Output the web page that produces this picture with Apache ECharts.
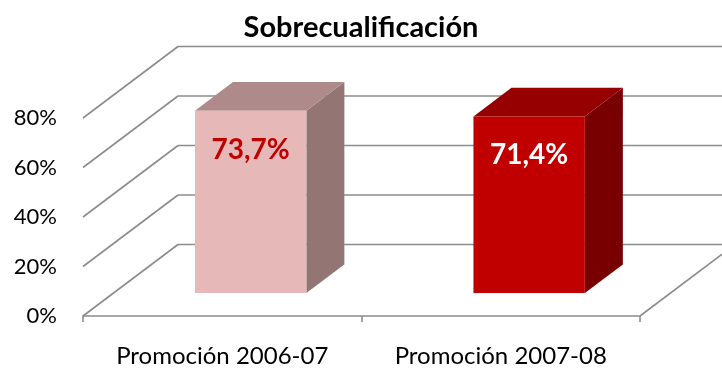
<!DOCTYPE html>
<html>
<head>
<meta charset="utf-8">
<script src="https://cdn.jsdelivr.net/npm/echarts@6/dist/echarts.min.js"></script>
<style>
  html, body { margin: 0; padding: 0; background: #fff; }
  #chart { width: 722px; height: 369px; }
</style>
</head>
<body>
<div id="chart"></div>
<script>
// Chart data
const categories = ['Promoción 2006-07', 'Promoción 2007-08'];
const values = [73.7, 71.4];
const yTicks = [0, 20, 40, 60, 80];

// Perspective settings (pixels) for the pseudo-3D box
const DEPTH_X = 95;
const DEPTH_Y = 71.5;
const BAR_FRONT = 0.32;   // fraction of depth where the bar front face sits
const BAR_DEPTH = 0.40;   // fraction of depth the bar occupies
const BAR_WIDTH = 0.40;   // fraction of the category band
const BAR_SHIFT = -2;     // small horizontal nudge of the bar body
const GRID_COLOR = '#8c8c8c';
const FONT = 'Lato, "Open Sans", sans-serif';

const barFaces = [
  { front: '#e6b9b8', top: '#ae8b8a', side: '#937574', label: '#c00000' },
  { front: '#c00000', top: '#960000', side: '#790000', label: '#ffffff' }
];

function fmtPct(v) {
  return v.toFixed(1).replace('.', ',') + '%';
}

function renderWall(params, api) {
  const v = api.value(1);
  const cs = params.coordSys;
  const y = api.coord([0, v])[1];
  const left = cs.x;
  const right = cs.x + cs.width;
  const lineStyle = { stroke: GRID_COLOR, lineWidth: 1.6, fill: null };
  const children = [
    // side wall line
    { type: 'line', shape: { x1: left, y1: y, x2: left + DEPTH_X, y2: y - DEPTH_Y }, style: lineStyle },
    // back wall line
    { type: 'line', shape: { x1: left + DEPTH_X, y1: y - DEPTH_Y, x2: right + DEPTH_X, y2: y - DEPTH_Y }, style: lineStyle }
  ];
  if (v === 0) {
    // right edge of the floor
    children.push({ type: 'line', shape: { x1: right, y1: y, x2: right + DEPTH_X, y2: y - DEPTH_Y }, style: lineStyle });
  }
  return { type: 'group', children: children };
}

function renderBar(params, api) {
  const i = api.value(0);
  const v = api.value(1);
  const base = api.coord([i, 0]);
  const top = api.coord([i, v]);
  const w = api.size([1, 0])[0] * BAR_WIDTH;
  const ox = DEPTH_X * BAR_FRONT, oy = DEPTH_Y * BAR_FRONT;
  const dx = DEPTH_X * BAR_DEPTH, dy = DEPTH_Y * BAR_DEPTH;
  const x0 = base[0] - w / 2 + ox + BAR_SHIFT;
  const x1 = x0 + w;
  const yb = base[1] - oy;
  const yt = top[1] - oy;
  const c = barFaces[i];
  return {
    type: 'group',
    children: [
      { type: 'polygon', shape: { points: [[x1, yb], [x1, yt], [x1 + dx, yt - dy], [x1 + dx, yb - dy]] }, style: { fill: c.side } },
      { type: 'polygon', shape: { points: [[x0, yt], [x1, yt], [x1 + dx, yt - dy], [x0 + dx, yt - dy]] }, style: { fill: c.top } },
      { type: 'rect', shape: { x: x0, y: yt, width: w, height: yb - yt }, style: { fill: c.front } },
      { type: 'text', style: {
          text: fmtPct(v), x: (x0 + x1) / 2, y: yt + 39,
          align: 'center', verticalAlign: 'middle',
          fontFamily: FONT, fontSize: 28, fontWeight: 'bold', fill: c.label
        } }
    ]
  };
}

const chart = echarts.init(document.getElementById('chart'), null, { renderer: 'canvas' });
chart.setOption({
  animation: false,
  backgroundColor: '#ffffff',
  title: {
    text: 'Sobrecualificación',
    left: 'center',
    top: 8,
    textStyle: { fontFamily: FONT, fontSize: 29, fontWeight: 'bold', color: '#000' }
  },
  grid: { left: 83, right: 82, top: 118, bottom: 53, containLabel: false },
  xAxis: {
    type: 'category',
    data: categories,
    boundaryGap: true,
    axisLine: { show: true, lineStyle: { color: GRID_COLOR, width: 1.6 } },
    axisTick: { show: true, length: 6, lineStyle: { color: GRID_COLOR, width: 1.6 } },
    axisLabel: { fontFamily: FONT, fontSize: 24, color: '#000', margin: 28 },
    splitLine: { show: false }
  },
  yAxis: {
    type: 'value',
    min: 0,
    max: 80,
    interval: 20,
    axisLine: { show: false },
    axisTick: { show: false },
    splitLine: { show: false },
    axisLabel: { formatter: '{value}%', fontFamily: FONT, fontSize: 22, color: '#000', margin: 26 }
  },
  series: [
    {
      type: 'custom',
      renderItem: renderWall,
      data: yTicks.map(function (t) { return [0, t]; }),
      z: 1,
      silent: true
    },
    {
      type: 'custom',
      renderItem: renderBar,
      data: values.map(function (v, i) { return [i, v]; }),
      z: 2
    }
  ]
});
</script>
</body>
</html>
